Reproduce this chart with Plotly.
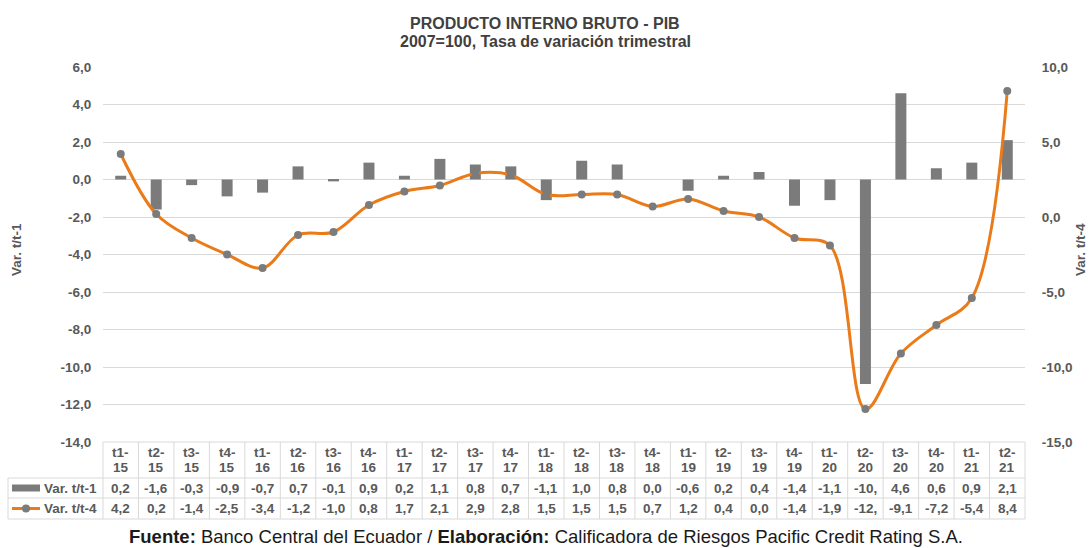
import plotly.graph_objects as go

categories = ["t1-15", "t2-15", "t3-15", "t4-15", "t1-16", "t2-16", "t3-16", "t4-16",
              "t1-17", "t2-17", "t3-17", "t4-17", "t1-18", "t2-18", "t3-18", "t4-18",
              "t1-19", "t2-19", "t3-19", "t4-19", "t1-20", "t2-20", "t3-20", "t4-20",
              "t1-21", "t2-21"]
var_t1 = [0.2, -1.6, -0.3, -0.9, -0.7, 0.7, -0.1, 0.9, 0.2, 1.1, 0.8, 0.7, -1.1,
          1.0, 0.8, 0.0, -0.6, 0.2, 0.4, -1.4, -1.1, -10.9, 4.6, 0.6, 0.9, 2.1]
var_t4 = [4.2, 0.2, -1.4, -2.5, -3.4, -1.2, -1.0, 0.8, 1.7, 2.1, 2.9, 2.8, 1.5,
          1.5, 1.5, 0.7, 1.2, 0.4, 0.0, -1.4, -1.9, -12.8, -9.1, -7.2, -5.4, 8.4]
left_ticks = [-14, -12, -10, -8, -6, -4, -2, 0, 2, 4, 6]
left_tick_labels = ["-14,0", "-12,0", "-10,0", "-8,0", "-6,0", "-4,0", "-2,0", "0,0", "2,0", "4,0", "6,0"]
right_ticks = [-15, -10, -5, 0, 5, 10]
right_tick_labels = ["-15,0", "-10,0", "-5,0", "0,0", "5,0", "10,0"]
series_names = ["Var. t/t-1", "Var. t/t-4"]
title_lines = ["PRODUCTO INTERNO BRUTO - PIB", "2007=100, Tasa de variación trimestral"]
source_text = "<b>Fuente:</b> Banco Central del Ecuador / <b>Elaboración:</b> Calificadora de Riesgos Pacific Credit Rating S.A."

BAR_C = "#7B7B7B"
LINE_C = "#EB7A18"
TXT_C = "#595959"
GRID_C = "#D9D9D9"
FONT = "Arial, Liberation Sans, sans-serif"
FS = 13.5

W, H = 1089, 548
L, R, T, B = 103, 1025, 67, 442
PW, PH = R - L, B - T
n = len(categories)


def px(x):
    return (x - L) / PW


def py(y):
    return (B - y) / PH


def fmt(v):
    s = f"{v:.1f}".replace(".", ",")
    if s == "-0,0":
        s = "0,0"
    return s[:4]


fig = go.Figure()
fig.add_trace(go.Bar(x=categories, y=var_t1, name=series_names[0],
                     marker=dict(color=BAR_C, line=dict(width=0)), yaxis="y"))
fig.add_trace(go.Scatter(x=categories, y=var_t4, name=series_names[1], yaxis="y2",
                         mode="lines+markers",
                         line=dict(color=LINE_C, width=3, shape="spline", smoothing=1.0),
                         marker=dict(color=BAR_C, size=8)))

shapes = []
ln = dict(color=GRID_C, width=1)
# table horizontal lines
shapes.append(dict(type="line", xref="paper", yref="paper", x0=0, x1=1, y0=py(442), y1=py(442), line=ln))
for yy in (478, 498, 519):
    shapes.append(dict(type="line", xref="paper", yref="paper", x0=px(8), x1=1, y0=py(yy), y1=py(yy), line=ln))
shapes.append(dict(type="line", xref="paper", yref="paper", x0=px(8), x1=px(8), y0=py(478), y1=py(519), line=ln))
for i in range(n + 1):
    xv = i / n
    shapes.append(dict(type="line", xref="paper", yref="paper", x0=xv, x1=xv, y0=py(442), y1=py(519), line=ln))
# legend keys
shapes.append(dict(type="rect", xref="paper", yref="paper", x0=px(12), x1=px(40), y0=py(484.5), y1=py(491.5),
                   fillcolor=BAR_C, line=dict(width=0)))
shapes.append(dict(type="line", xref="paper", yref="paper", x0=px(12), x1=px(40), y0=py(508.5), y1=py(508.5),
                   line=dict(color=LINE_C, width=3)))
shapes.append(dict(type="circle", xref="paper", yref="paper", x0=px(22), x1=px(30), y0=py(504.5), y1=py(512.5),
                   fillcolor=BAR_C, line=dict(width=0)))

ann = []
tf = dict(family=FONT, size=FS, color=TXT_C)
for i, c in enumerate(categories):
    q, yr = c.split("-")
    ann.append(dict(x=c, xref="x", y=py(452), yref="paper", text=f"<b>{q}-</b>", showarrow=False,
                    font=tf, xanchor="center", yanchor="middle"))
    ann.append(dict(x=c, xref="x", y=py(468), yref="paper", text=f"<b>{yr}</b>", showarrow=False,
                    font=tf, xanchor="center", yanchor="middle"))
    ann.append(dict(x=c, xref="x", y=py(488), yref="paper", text=f"<b>{fmt(var_t1[i])}</b>", showarrow=False,
                    font=tf, xanchor="center", yanchor="middle"))
    ann.append(dict(x=c, xref="x", y=py(508.5), yref="paper", text=f"<b>{fmt(var_t4[i])}</b>", showarrow=False,
                    font=tf, xanchor="center", yanchor="middle"))
ann.append(dict(x=px(42), xref="paper", y=py(488), yref="paper", text=f"<b>{series_names[0]}</b>",
                showarrow=False, font=tf, xanchor="left", yanchor="middle"))
ann.append(dict(x=px(42), xref="paper", y=py(508.5), yref="paper", text=f"<b>{series_names[1]}</b>",
                showarrow=False, font=tf, xanchor="left", yanchor="middle"))
# titles
ann.append(dict(x=px(545), xref="paper", y=py(23), yref="paper", text=f"<b>{title_lines[0]}</b>",
                showarrow=False, font=dict(family=FONT, size=16, color="#404040"), xanchor="center", yanchor="middle"))
ann.append(dict(x=px(545), xref="paper", y=py(41), yref="paper", text=f"<b>{title_lines[1]}</b>",
                showarrow=False, font=dict(family=FONT, size=16, color="#404040"), xanchor="center", yanchor="middle"))
# axis titles
ann.append(dict(x=px(16), xref="paper", y=py(250), yref="paper", text=f"<b>{series_names[0]}</b>", textangle=-90,
                showarrow=False, font=tf, xanchor="center", yanchor="middle"))
ann.append(dict(x=px(1080), xref="paper", y=py(250), yref="paper", text=f"<b>{series_names[1]}</b>", textangle=-90,
                showarrow=False, font=tf, xanchor="center", yanchor="middle"))
# source
ann.append(dict(x=px(546), xref="paper", y=py(536), yref="paper", text=source_text,
                showarrow=False, font=dict(family=FONT, size=18.5, color="#1A1A1A"), xanchor="center", yanchor="middle"))

fig.update_layout(
    width=W, height=H, autosize=False,
    margin=dict(l=L, r=W - R, t=T, b=H - B, pad=0),
    paper_bgcolor="white", plot_bgcolor="white",
    showlegend=False,
    bargap=0.69,
    font=dict(family=FONT, size=FS, color=TXT_C),
    xaxis=dict(type="category", range=[-0.5, n - 0.5], showticklabels=False, showgrid=False,
               zeroline=False, showline=False, ticks=""),
    yaxis=dict(range=[-14, 6], tickmode="array", tickvals=left_ticks, ticktext=left_tick_labels,
               showgrid=True, gridcolor=GRID_C,
               gridwidth=1, zeroline=False, showline=False, ticks="outside", ticklen=8,
               tickcolor="rgba(0,0,0,0)", tickfont=dict(family=FONT, size=FS, color=TXT_C, weight="bold")),
    yaxis2=dict(range=[-15, 10], tickmode="array", tickvals=right_ticks, ticktext=right_tick_labels,
                overlaying="y", side="right",
                showgrid=False, zeroline=False, showline=False, ticks="outside", ticklen=13,
                tickcolor="rgba(0,0,0,0)", tickfont=dict(family=FONT, size=FS, color=TXT_C, weight="bold")),
    shapes=shapes,
    annotations=ann,
)

fig.write_html("out.html")
